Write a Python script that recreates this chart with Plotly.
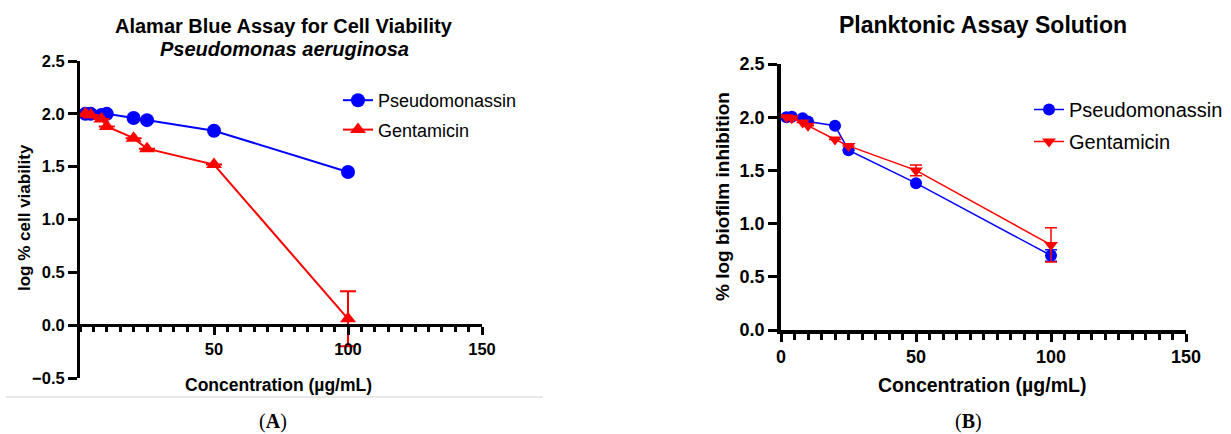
import plotly.graph_objects as go

# ---------------- data ----------------
conc = [2, 4, 8, 10, 20, 25, 50, 100]

a_pseudo = [2.00, 2.00, 1.99, 2.00, 1.96, 1.94, 1.84, 1.45]
a_genta = [2.00, 1.99, 1.95, 1.88, 1.77, 1.67, 1.52, 0.06]
a_genta_err = [0, 0, 0, 0, 0, 0, 0, 0.26]

b_pseudo = [2.00, 2.005, 1.99, 1.96, 1.92, 1.69, 1.38, 0.70]
b_pseudo_err = [0, 0, 0, 0, 0, 0, 0, 0.055]
b_genta = [2.00, 1.99, 1.95, 1.92, 1.79, 1.73, 1.50, 0.80]
b_genta_err = [0, 0, 0, 0, 0, 0, 0.05, 0.16]

a_xticks = [50, 100, 150]
b_xticks = [0, 50, 100, 150]
a_yticks = [-0.5, 0.0, 0.5, 1.0, 1.5, 2.0, 2.5]
b_yticks = [0.0, 0.5, 1.0, 1.5, 2.0, 2.5]

BLUE = "#0000FF"
RED = "#FF0000"
FONT = "Liberation Sans, Arial, sans-serif"
W, H = 1231, 434


def px(x):
    return x / W


def py(y):
    return 1 - y / H


fig = go.Figure()

# ---- panel A ----
fig.add_trace(go.Scatter(
    x=conc, y=a_pseudo, name="Pseudomonassin", mode="lines+markers",
    line=dict(color=BLUE, width=2), marker=dict(color=BLUE, size=14, symbol="circle"),
    xaxis="x", yaxis="y", legend="legend", legendgroup="a1", cliponaxis=False))
fig.add_trace(go.Scatter(
    x=conc, y=a_genta, name="Gentamicin", mode="lines+markers",
    line=dict(color=RED, width=2), marker=dict(color=RED, size=14, symbol="triangle-up"),
    error_y=dict(type="data", array=a_genta_err, color=RED, thickness=2, width=8),
    xaxis="x", yaxis="y", legend="legend", legendgroup="a2", cliponaxis=False))

# ---- panel B ----
fig.add_trace(go.Scatter(
    x=conc, y=b_pseudo, name="Pseudomonassin", mode="lines+markers",
    line=dict(color=BLUE, width=1.5), marker=dict(color=BLUE, size=12, symbol="circle"),
    error_y=dict(type="data", array=b_pseudo_err, color=BLUE, thickness=1.5, width=6),
    xaxis="x2", yaxis="y2", legend="legend2", legendgroup="b1", cliponaxis=False))
fig.add_trace(go.Scatter(
    x=conc, y=b_genta, name="Gentamicin", mode="lines+markers",
    line=dict(color=RED, width=1.5), marker=dict(color=RED, size=12, symbol="triangle-down"),
    error_y=dict(type="data", array=b_genta_err, color=RED, thickness=1.5, width=6),
    xaxis="x2", yaxis="y2", legend="legend2", legendgroup="b2", cliponaxis=False))

a_xdom = [px(80), px(482)]
a_ydom = [py(378), py(61)]
a_yrange = [-0.5, 2.5]
a_xpos = a_ydom[0] + (0 - a_yrange[0]) / (a_yrange[1] - a_yrange[0]) * (a_ydom[1] - a_ydom[0])

b_xdom = [px(781), px(1186)]
b_ydom = [py(330), py(64)]

tickfont_a = dict(family=FONT, size=16.5, color="black", weight="bold")
tickfont_b = dict(family=FONT, size=18, color="black", weight="bold")

fig.update_layout(
    width=W, height=H, margin=dict(l=0, r=0, t=0, b=0, autoexpand=False),
    paper_bgcolor="white", plot_bgcolor="white",
    xaxis=dict(domain=a_xdom, range=[0, 150], anchor="free", position=a_xpos,
               tickmode="array", tickvals=a_xticks, ticks="outside", ticklen=8, tickwidth=2.5,
               tickcolor="black", showline=True, linewidth=3, linecolor="black",
               showgrid=False, zeroline=False, tickfont=tickfont_a, automargin=False,
               minor=dict(dtick=5, tick0=0, ticks="outside", ticklen=5, tickwidth=2.5,
                          tickcolor="black", showgrid=False)),
    yaxis=dict(domain=a_ydom, range=a_yrange, anchor="x",
               tickmode="array", tickvals=a_yticks, tickformat=".1f",
               ticks="outside", ticklen=9, tickwidth=2.5, tickcolor="black",
               showline=True, linewidth=3, linecolor="black", automargin=False,
               showgrid=False, zeroline=False, tickfont=tickfont_a),
    xaxis2=dict(domain=b_xdom, range=[0, 150], anchor="y2",
                tickmode="array", tickvals=b_xticks, ticks="outside", ticklen=8, tickwidth=3,
                tickcolor="black", showline=True, linewidth=3.5, linecolor="black",
                showgrid=False, zeroline=False, tickfont=tickfont_b, automargin=False,
                minor=dict(dtick=5, tick0=0, ticks="outside", ticklen=6, tickwidth=3,
                           tickcolor="black", showgrid=False)),
    yaxis2=dict(domain=b_ydom, range=[0, 2.5], anchor="x2",
                tickmode="array", tickvals=b_yticks, tickformat=".1f",
                ticks="outside", ticklen=9, tickwidth=3, tickcolor="black",
                showline=True, linewidth=3.5, linecolor="black", automargin=False,
                showgrid=False, zeroline=False, tickfont=tickfont_b),
    legend=dict(x=px(338), y=py(82), xanchor="left", yanchor="top",
                font=dict(family=FONT, size=18, color="black"),
                bgcolor="rgba(0,0,0,0)", tracegroupgap=3, traceorder="grouped",
                itemwidth=30),
    legend2=dict(x=px(1029), y=py(90), xanchor="left", yanchor="top",
                 font=dict(family=FONT, size=20, color="black"),
                 bgcolor="rgba(0,0,0,0)", tracegroupgap=3, traceorder="grouped",
                 itemwidth=30),
    showlegend=True,
)

ann = []
ann.append(dict(text="<b>Alamar Blue Assay for Cell Viability</b>", x=px(284), y=py(26),
                font=dict(family=FONT, size=20, color="black")))
ann.append(dict(text="<b><i>Pseudomonas aeruginosa</i></b>", x=px(284), y=py(49),
                font=dict(family=FONT, size=20, color="black")))
ann.append(dict(text="<b>Planktonic Assay Solution</b>", x=px(983), y=py(25),
                font=dict(family=FONT, size=23, color="black")))
ann.append(dict(text="<b>log % cell viability</b>", x=px(24), y=py(218), textangle=-90,
                font=dict(family=FONT, size=17, color="black")))
ann.append(dict(text="<b>% log biofilm inhibition</b>", x=px(722), y=py(197), textangle=-90,
                font=dict(family=FONT, size=19, color="black")))
ann.append(dict(text="<b>Concentration (µg/mL)</b>", x=px(278), y=py(385),
                font=dict(family=FONT, size=17.5, color="black")))
ann.append(dict(text="<b>Concentration (µg/mL)</b>", x=px(982), y=py(385),
                font=dict(family=FONT, size=19.5, color="black")))
ann.append(dict(text="(<b>A</b>)", x=px(273), y=py(421),
                font=dict(family="Liberation Serif, serif", size=20, color="black")))
ann.append(dict(text="(<b>B</b>)", x=px(968), y=py(421),
                font=dict(family="Liberation Serif, serif", size=20, color="black")))
for a in ann:
    a.update(xref="paper", yref="paper", showarrow=False, xanchor="center", yanchor="middle")
fig.update_layout(annotations=ann)

fig.add_shape(type="line", xref="paper", yref="paper", x0=px(6), x1=px(543), y0=py(397), y1=py(397),
              line=dict(color="#d0d0d0", width=1))

fig.write_html("out.html", config={"displayModeBar": False},
               post_script="document.body.style.margin='0px';document.body.style.overflow='hidden';")
